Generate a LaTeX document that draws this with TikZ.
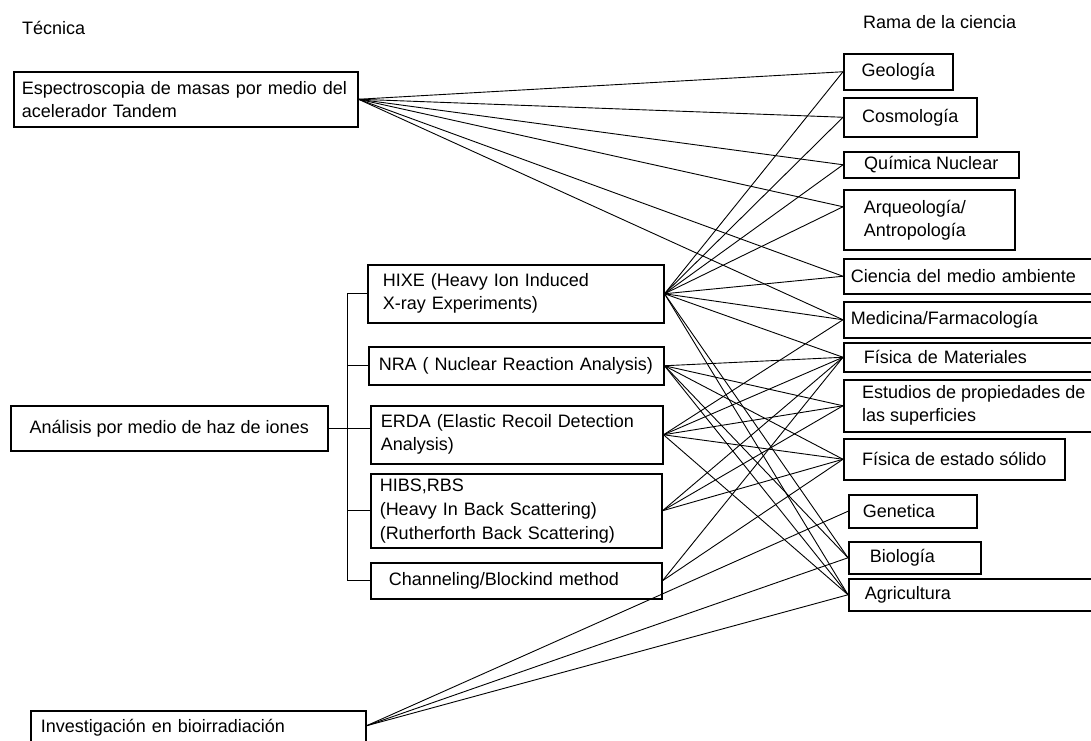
\documentclass[tikz,border=0pt]{standalone}
\usepackage{fontspec}
\setmainfont{Liberation Sans}
\usetikzlibrary{positioning}

\begin{document}
\begin{tikzpicture}[
                x=1pt, y=-1pt,
                font=\fontsize{18}{23}\selectfont,
                box/.style={draw, line width=1.5pt, rectangle, inner xsep=0pt, inner ysep=0pt, anchor=north west, align=left},
                lbl/.style={inner sep=0pt, anchor=base west},
                link/.style={-, line width=0.9pt}]

            \useasboundingbox (0,0) rectangle (1091,740);

            % Titulos
            \node[lbl] (tec) at (22,34) {Técnica};
            \node[lbl] (rama) at (863,28) {Rama de la ciencia};

            % Tecnicas
            \node[box, minimum width=344, minimum height=55, text width=328] (tandem) at (13,71) {Espectroscopia de masas por medio del\\acelerador Tandem};
            \node[box, minimum width=317, minimum height=45, align=center] (analisis) at (10,405) {Análisis por medio de haz de iones};
            \node[box, minimum width=335, minimum height=34, text width=315] (bioirr) at (30,710) {Investigación en bioirradiación};

            % Metodos
            \node[box, minimum width=296, minimum height=58, text width=266] (hixe) at (367,264) {HIXE (Heavy Ion Induced\\X-ray Experiments)};
            \node[box, minimum width=295, minimum height=38, text width=275] (nra) at (368,346) {NRA ( Nuclear Reaction Analysis)};
            \node[box, minimum width=292, minimum height=58, text width=272] (erda) at (370,405) {ERDA (Elastic Recoil Detection\\Analysis)};
            \node[box, minimum width=291, minimum height=74, text width=273, font=\fontsize{18}{24}\selectfont] (hibs) at (370,473) {HIBS,RBS\\(Heavy In Back Scattering)\\(Rutherforth Back Scattering)};
            \node[box, minimum width=291, minimum height=36, text width=255] (chan) at (370,562) {Channeling/Blockind method};

            % Ramas
            \node[box, minimum width=109, minimum height=36, align=center] (geo) at (843,53) {Geología};
            \node[box, minimum width=133, minimum height=39, align=center] (cos) at (843,97) {Cosmología};
            \node[box, minimum width=175, minimum height=26, align=center] (qui) at (843,151) {Química Nuclear};
            \node[box, minimum width=171, minimum height=60, text width=131] (arq) at (843,189) {Arqueología/\\Antropología};
            \node[box, minimum width=260, minimum height=35, text width=246] (cie) at (843,258) {Ciencia del medio ambiente};
            \node[box, minimum width=260, minimum height=36, text width=246] (med) at (843,301) {Medicina/Farmacología};
            \node[box, minimum width=260, minimum height=29, text width=220] (fma) at (843,342) {Física de Materiales};
            \node[box, minimum width=260, minimum height=52] (est) at (843,379) {Estudios de propiedades de\\las superficies};
            \node[box, minimum width=221, minimum height=41] (fes) at (843,438) {Física de estado sólido};
            \node[box, minimum width=128, minimum height=33, text width=100] (gen) at (848,494) {Genetica};
            \node[box, minimum width=132, minimum height=32, text width=90] (bio) at (848,541) {Biología};
            \node[box, minimum width=260, minimum height=32, text width=228] (agr) at (848,578) {Agricultura};

            % Llave
            \coordinate (trunk) at (347,0);
            \draw[link] (hixe.west) -- (hixe.west -| trunk) -- (chan.west -| trunk) -- (chan.west);
            \draw[link] (nra.west) -- (nra.west -| trunk);
            \draw[link] (hibs.west) -- (hibs.west -| trunk);
            \draw[link] (analisis.east) -- (analisis.east -| erda.west);

            % Conexiones
            \coordinate (arqin) at ([yshift=13pt]arq.west);
            \coordinate (bioout) at ([yshift=2pt]bioirr.east);
            \foreach \dst in {geo.west,cos.west,qui.west,arqin,cie.west,med.west}
                \draw[link] (tandem.east) -- (\dst);
            \foreach \dst in {geo.west,cos.west,qui.west,arqin,cie.west,med.west,fma.west,bio.west,agr.west}
                \draw[link] (hixe.east) -- (\dst);
            \foreach \dst in {fma,est,fes,bio,agr}
                \draw[link] (nra.east) -- (\dst.west);
            \foreach \dst in {med,fma,est,fes,agr}
                \draw[link] (erda.east) -- (\dst.west);
            \foreach \dst in {fma,est,fes}
                \draw[link] (hibs.east) -- (\dst.west);
            \foreach \dst in {fma,fes}
                \draw[link] (chan.east) -- (\dst.west);
            \foreach \dst in {gen,bio,agr}
                \draw[link] (bioout) -- (\dst.west);

        \end{tikzpicture}
\end{document}
